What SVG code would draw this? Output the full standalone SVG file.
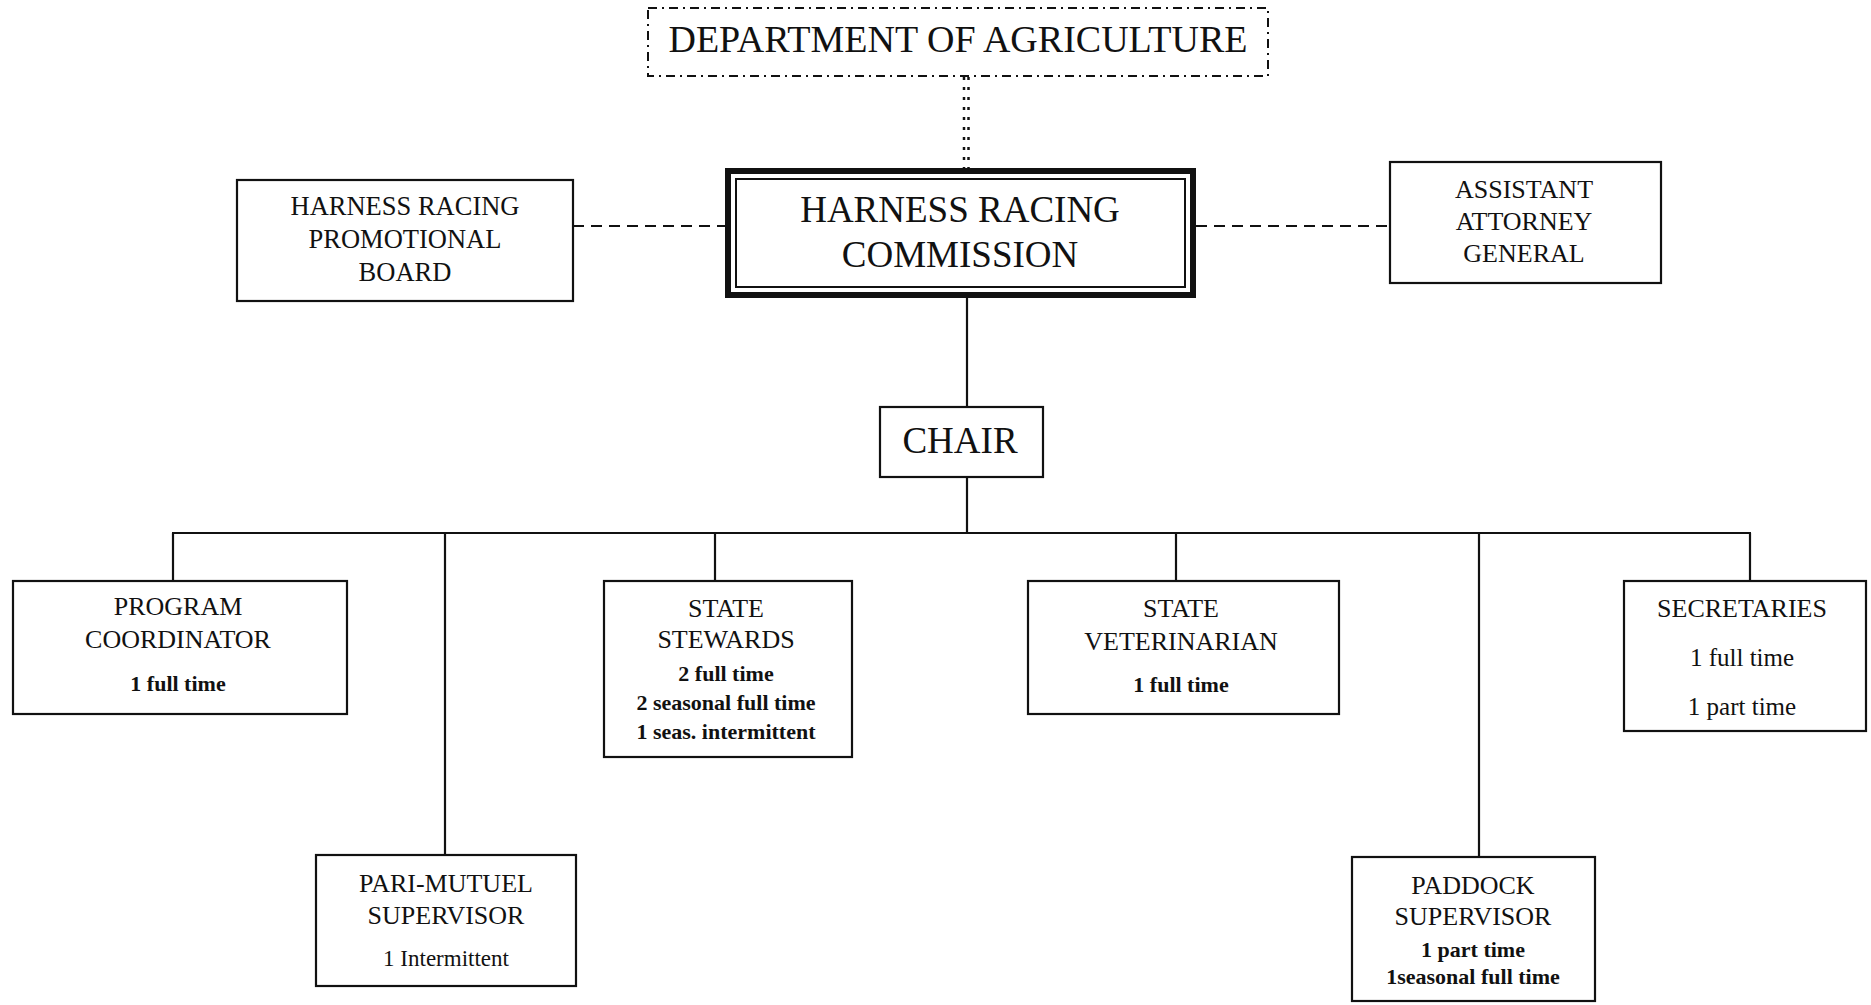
<svg xmlns="http://www.w3.org/2000/svg" width="1871" height="1005" viewBox="0 0 1871 1005">
<style>
  .box { fill: #fff; stroke: #111; stroke-width: 2.2; }
  .t { font-family: "Liberation Serif", "Times New Roman", serif; fill: #111; text-anchor: middle; }
  .big { font-size: 37px; }
  .title { font-size: 26px; }
  .sub { font-size: 22px; font-weight: bold; }
  .subr { font-size: 25px; }
  .line { stroke: #111; stroke-width: 2.2; fill: none; }
  .dash { stroke: #111; stroke-width: 2; fill: none; stroke-dasharray: 11 7; }
  .dot { stroke: #111; stroke-width: 2.5; fill: none; stroke-dasharray: 3 7; }
</style>
<rect width="1871" height="1005" fill="#fff"/>

<g id="connectors">
  <line class="dot" x1="964" y1="77" x2="964" y2="168"/>
  <line class="dot" x1="968.5" y1="77" x2="968.5" y2="168"/>
  <line class="dash" x1="573" y1="226" x2="725" y2="226"/>
  <line class="dash" x1="1196" y1="226" x2="1390" y2="226"/>
  <line class="line" x1="967" y1="297" x2="967" y2="407"/>
  <line class="line" x1="967" y1="477" x2="967" y2="533"/>
  <line class="line" x1="172" y1="533" x2="1751" y2="533"/>
  <line class="line" x1="173" y1="533" x2="173" y2="581"/>
  <line class="line" x1="445" y1="533" x2="445" y2="855"/>
  <line class="line" x1="715" y1="533" x2="715" y2="581"/>
  <line class="line" x1="1176" y1="533" x2="1176" y2="581"/>
  <line class="line" x1="1479" y1="533" x2="1479" y2="857"/>
  <line class="line" x1="1750" y1="533" x2="1750" y2="581"/>
</g>

<g id="dept">
  <rect x="648" y="8" width="620" height="68" fill="#fff" stroke="#111" stroke-width="2" stroke-dasharray="9 5 2 5"/>
  <text class="t" x="958" y="52" style="font-size:38px">DEPARTMENT OF AGRICULTURE</text>
</g>

<g id="commission">
  <rect x="728" y="171" width="465" height="124" fill="#fff" stroke="#111" stroke-width="6"/>
  <rect x="736" y="179" width="449" height="108" fill="none" stroke="#111" stroke-width="2"/>
  <text class="t big" x="960" y="222">HARNESS RACING</text>
  <text class="t big" x="960" y="267">COMMISSION</text>
</g>

<g id="promo">
  <rect class="box" x="237" y="180" width="336" height="121"/>
  <text class="t title" x="405" y="215" style="font-size:26.5px">HARNESS RACING</text>
  <text class="t title" x="405" y="248" style="font-size:26.5px">PROMOTIONAL</text>
  <text class="t title" x="405" y="281" style="font-size:26.5px">BOARD</text>
</g>

<g id="attorney">
  <rect class="box" x="1390" y="162" width="271" height="121"/>
  <text class="t title" x="1524" y="198">ASSISTANT</text>
  <text class="t title" x="1524" y="230">ATTORNEY</text>
  <text class="t title" x="1524" y="262">GENERAL</text>
</g>

<g id="chair">
  <rect class="box" x="880" y="407" width="163" height="70"/>
  <text class="t big" x="960" y="453">CHAIR</text>
</g>

<g id="program">
  <rect class="box" x="13" y="581" width="334" height="133"/>
  <text class="t title" x="178" y="615">PROGRAM</text>
  <text class="t title" x="178" y="648">COORDINATOR</text>
  <text class="t sub" x="178" y="691">1 full time</text>
</g>

<g id="parimutuel">
  <rect class="box" x="316" y="855" width="260" height="131"/>
  <text class="t title" x="446" y="892">PARI-MUTUEL</text>
  <text class="t title" x="446" y="924">SUPERVISOR</text>
  <text class="t subr" x="446" y="966" style="font-size:23px">1 Intermittent</text>
</g>

<g id="stewards">
  <rect class="box" x="604" y="581" width="248" height="176"/>
  <text class="t title" x="726" y="617">STATE</text>
  <text class="t title" x="726" y="648">STEWARDS</text>
  <text class="t sub" x="726" y="681">2 full time</text>
  <text class="t sub" x="726" y="710">2 seasonal full time</text>
  <text class="t sub" x="726" y="739">1 seas. intermittent</text>
</g>

<g id="veterinarian">
  <rect class="box" x="1028" y="581" width="311" height="133"/>
  <text class="t title" x="1181" y="617">STATE</text>
  <text class="t title" x="1181" y="650">VETERINARIAN</text>
  <text class="t sub" x="1181" y="692">1 full time</text>
</g>

<g id="secretaries">
  <rect class="box" x="1624" y="581" width="242" height="150"/>
  <text class="t title" x="1742" y="617">SECRETARIES</text>
  <text class="t subr" x="1742" y="666">1 full time</text>
  <text class="t subr" x="1742" y="715">1 part time</text>
</g>

<g id="paddock">
  <rect class="box" x="1352" y="857" width="243" height="144"/>
  <text class="t title" x="1473" y="894">PADDOCK</text>
  <text class="t title" x="1473" y="925">SUPERVISOR</text>
  <text class="t sub" x="1473" y="957">1 part time</text>
  <text class="t sub" x="1473" y="984">1seasonal full time</text>
</g>
</svg>
